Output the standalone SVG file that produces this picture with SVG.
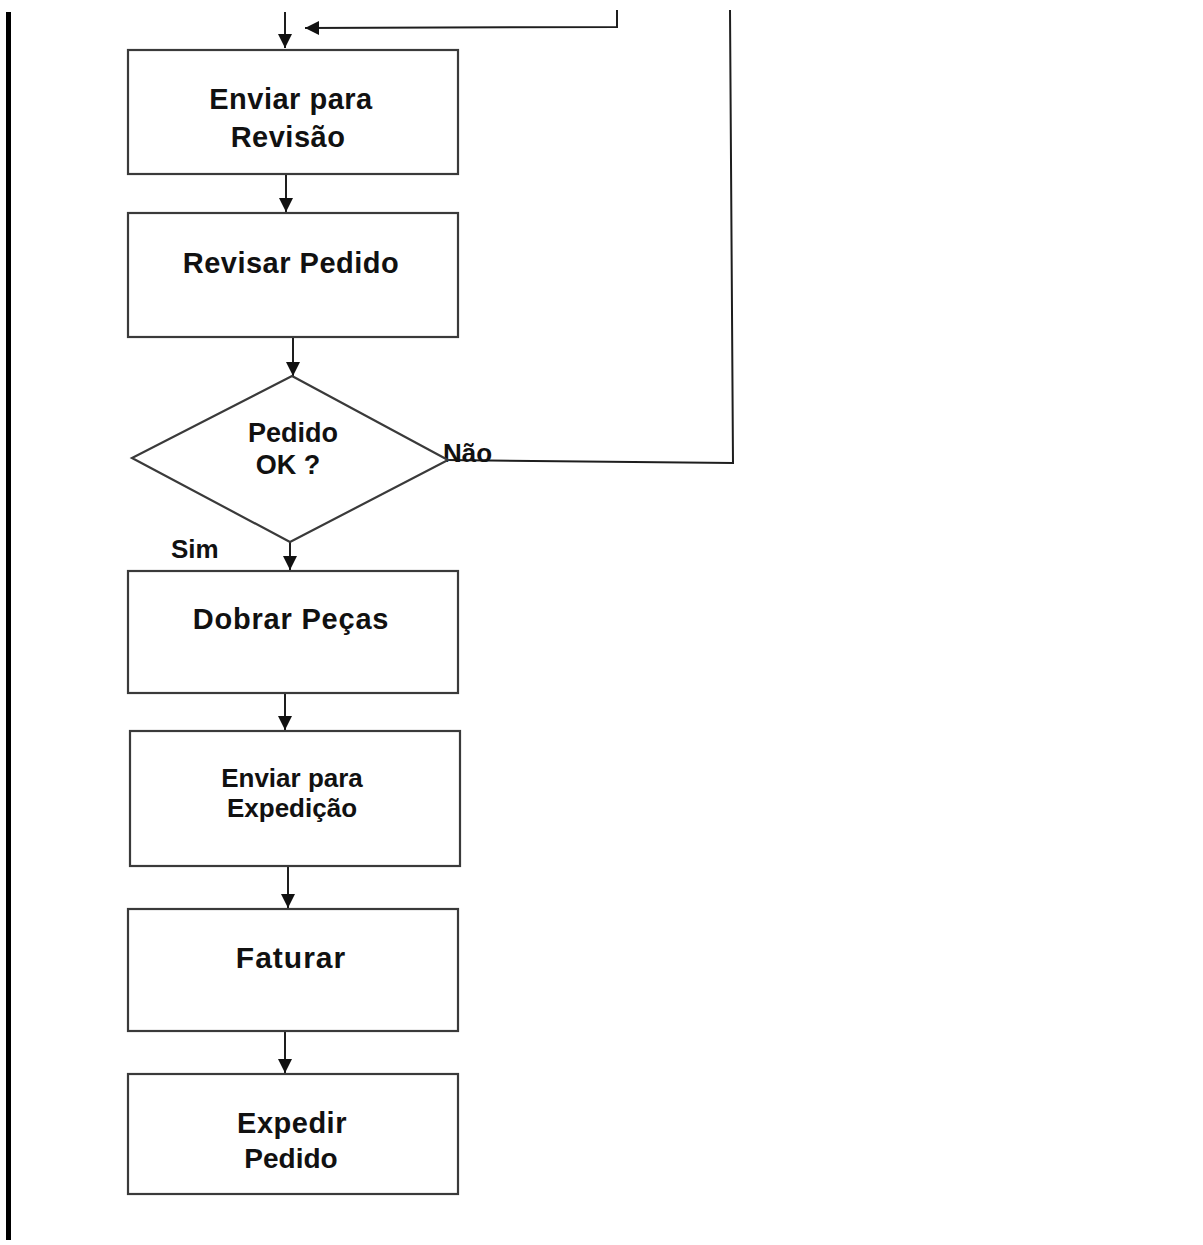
<svg xmlns="http://www.w3.org/2000/svg" width="1203" height="1245" viewBox="0 0 1203 1245">
  <style>
    .box { fill: #ffffff; stroke: #3a3a3a; stroke-width: 2.2; }
    .lbl { font-family: "Liberation Sans", Arial, sans-serif; font-weight: bold; fill: #111111; text-anchor: middle; }
    .tag { font-family: "Liberation Sans", Arial, sans-serif; font-weight: bold; fill: #111111; font-size: 26px; }
    .wire { fill: none; stroke: #1e1e1e; stroke-width: 2; }
  </style>
  <defs>
    <marker id="head" markerUnits="userSpaceOnUse" markerWidth="14" markerHeight="16" refX="14" refY="7" orient="auto">
      <path d="M0,0 L14,7 L0,14 Z" fill="#111111"/>
    </marker>
  </defs>

  <rect width="1203" height="1245" fill="#ffffff"/>

  <!-- page margin bar -->
  <rect x="6" y="12" width="5" height="1228" fill="#000000"/>

  <g id="connectors">
    <!-- incoming flow from above -->
    <line class="wire" x1="285" y1="12" x2="285" y2="48" marker-end="url(#head)"/>
    <!-- return path from the "Não" branch -->
    <polyline class="wire" points="448,460 733,463 730,10"/>
    <polyline class="wire" points="617,10 617,27 305,28" marker-end="url(#head)"/>
    <line class="wire" x1="286" y1="174" x2="286" y2="212" marker-end="url(#head)"/>
    <line class="wire" x1="293" y1="337" x2="293" y2="376" marker-end="url(#head)"/>
    <line class="wire" x1="290" y1="542" x2="290" y2="570" marker-end="url(#head)"/>
    <line class="wire" x1="285" y1="693" x2="285" y2="730" marker-end="url(#head)"/>
    <line class="wire" x1="288" y1="866" x2="288" y2="908" marker-end="url(#head)"/>
    <line class="wire" x1="285" y1="1031" x2="285" y2="1073" marker-end="url(#head)"/>
    <text class="tag" x="443" y="462">Não</text>
    <text class="tag" x="171" y="558">Sim</text>
  </g>

  <g id="enviar-revisao">
    <rect class="box" x="128" y="50" width="330" height="124"/>
    <text class="lbl" x="291" y="109" font-size="29" letter-spacing="0.5">Enviar para</text>
    <text class="lbl" x="288" y="147" font-size="29" letter-spacing="0.5">Revisão</text>
  </g>

  <g id="revisar-pedido">
    <rect class="box" x="128" y="213" width="330" height="124"/>
    <text class="lbl" x="291" y="273" font-size="29" letter-spacing="0.5">Revisar Pedido</text>
  </g>

  <g id="pedido-ok">
    <polygon class="box" points="292,376 448,460 290,542 132,458"/>
    <text class="lbl" x="293" y="442" font-size="27">Pedido</text>
    <text class="lbl" x="288" y="474" font-size="27">OK ?</text>
  </g>

  <g id="dobrar-pecas">
    <rect class="box" x="128" y="571" width="330" height="122"/>
    <text class="lbl" x="291" y="629" font-size="29" letter-spacing="0.8">Dobrar Peças</text>
  </g>

  <g id="enviar-expedicao">
    <rect class="box" x="130" y="731" width="330" height="135"/>
    <text class="lbl" x="292" y="787" font-size="26">Enviar para</text>
    <text class="lbl" x="292" y="817" font-size="26">Expedição</text>
  </g>

  <g id="faturar">
    <rect class="box" x="128" y="909" width="330" height="122"/>
    <text class="lbl" x="291" y="968" font-size="30" letter-spacing="1">Faturar</text>
  </g>

  <g id="expedir-pedido">
    <rect class="box" x="128" y="1074" width="330" height="120"/>
    <text class="lbl" x="292" y="1133" font-size="29" letter-spacing="0.5">Expedir</text>
    <text class="lbl" x="291" y="1168" font-size="28">Pedido</text>
  </g>
</svg>
